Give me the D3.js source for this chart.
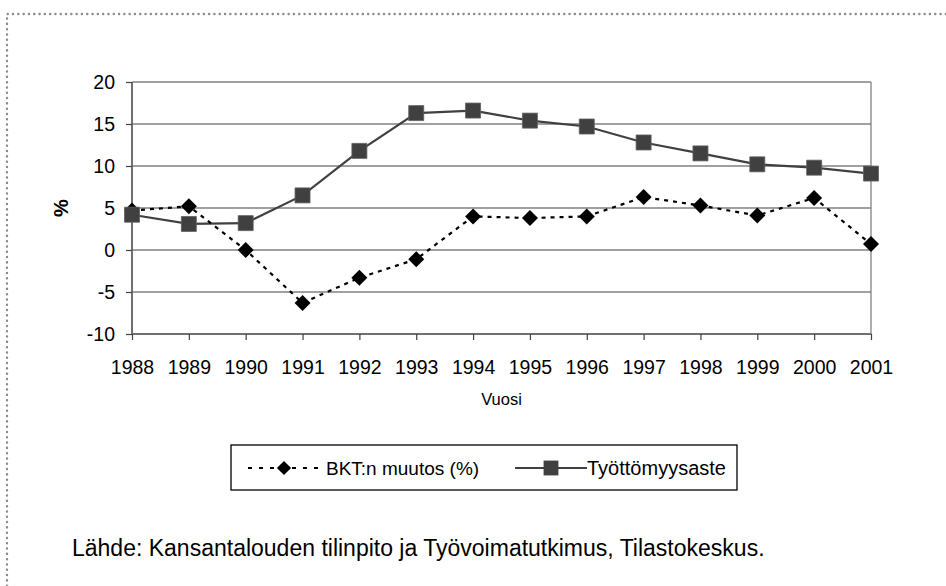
<!DOCTYPE html>
<html>
<head>
<meta charset="utf-8">
<script src="https://cdn.jsdelivr.net/npm/d3@7"></script>
<style>
  body { margin: 0; background: #fff; }
  svg { display: block; font-family: "Liberation Sans", Arial, sans-serif; }
</style>
</head>
<body>
<div id="chart"></div>
<script>
// Finnish GDP change and unemployment rate, 1988-2001
const years = [1988, 1989, 1990, 1991, 1992, 1993, 1994, 1995, 1996, 1997, 1998, 1999, 2000, 2001];
const bktValues = [4.7, 5.2, 0.0, -6.3, -3.3, -1.1, 4.0, 3.8, 4.0, 6.3, 5.3, 4.1, 6.2, 0.7];
const unemploymentValues = [4.2, 3.1, 3.2, 6.5, 11.8, 16.3, 16.6, 15.4, 14.7, 12.8, 11.5, 10.2, 9.8, 9.1];
const yTicks = [-10, -5, 0, 5, 10, 15, 20];
const seriesNames = ["BKT:n muutos (%)", "Työttömyysaste"];
const sourceText = "Lähde: Kansantalouden tilinpito ja Työvoimatutkimus, Tilastokeskus.";

const W = 946, H = 586;
const margin = { top: 82, right: 75, bottom: 252, left: 132 };
const width = W - margin.left - margin.right;
const height = H - margin.top - margin.bottom;

const svg = d3.select("#chart").append("svg")
    .attr("width", W)
    .attr("height", H);

// dotted frame round the whole thing
svg.append("path")
    .attr("d", `M7,${H + 5} L7,14 L${W + 5},14`)
    .attr("fill", "none")
    .attr("stroke", "#8a8a8a")
    .attr("stroke-width", 2.4)
    .attr("stroke-linecap", "round")
    .attr("stroke-dasharray", "0.1,5.2");

const g = svg.append("g")
    .attr("transform", `translate(${margin.left},${margin.top})`);

const x = d3.scalePoint()
    .domain(years)
    .range([0, width]);

const y = d3.scaleLinear()
    .domain([-10, 20])
    .range([height, 0]);

// gridlines
g.selectAll(".grid")
    .data(yTicks.filter(t => t !== -10))
    .join("line")
    .attr("class", "grid")
    .attr("x1", 0)
    .attr("x2", width)
    .attr("y1", d => y(d))
    .attr("y2", d => y(d))
    .attr("stroke", "#808080")
    .attr("stroke-width", 1.3);

// right border
g.append("line")
    .attr("x1", width).attr("x2", width)
    .attr("y1", 0).attr("y2", height)
    .attr("stroke", "#808080")
    .attr("stroke-width", 1.3);

// axes
const yAxis = g.append("g")
    .call(d3.axisLeft(y).tickValues(yTicks).tickSize(6).tickPadding(11).tickFormat(d => String(d)));
const xAxis = g.append("g")
    .attr("transform", `translate(0,${height})`)
    .call(d3.axisBottom(x).tickSize(6).tickPadding(20));

[yAxis, xAxis].forEach(ax => {
    ax.select(".domain").attr("stroke", "#707070").attr("stroke-width", 2);
    ax.selectAll(".tick line").attr("stroke", "#404040").attr("stroke-width", 1.2);
    ax.selectAll("text")
        .attr("fill", "#000")
        .style("font-size", "19.5px")
        .style("font-family", "Liberation Sans, Arial, sans-serif");
});
yAxis.select(".domain").attr("d", `M0,0V${height}`);
xAxis.select(".domain").attr("d", `M0,0H${width}`);

// axis titles
svg.append("text")
    .attr("transform", `translate(68,${margin.top + y(5)}) rotate(-90)`)
    .attr("text-anchor", "middle")
    .style("font-size", "20px")
    .style("font-weight", "bold")
    .text("%");

svg.append("text")
    .attr("x", margin.left + width / 2)
    .attr("y", 405)
    .attr("text-anchor", "middle")
    .style("font-size", "16.5px")
    .text("Vuosi");

// series
const seriesLine = d3.line().x((d, i) => x(years[i])).y(d => y(d));

g.append("path")
    .datum(unemploymentValues)
    .attr("fill", "none")
    .attr("stroke", "#404040")
    .attr("stroke-width", 2.2)
    .attr("d", seriesLine);

g.append("path")
    .datum(bktValues)
    .attr("fill", "none")
    .attr("stroke", "#000")
    .attr("stroke-width", 2.2)
    .attr("stroke-dasharray", "4,5")
    .attr("d", seriesLine);

const diamond = d3.symbol().type(d3.symbolSquare).size(128);
const square = d3.symbol().type(d3.symbolSquare).size(225);

g.selectAll(".bkt")
    .data(bktValues)
    .join("path")
    .attr("class", "bkt")
    .attr("d", diamond)
    .attr("transform", (d, i) => `translate(${x(years[i])},${y(d)}) rotate(45)`)
    .attr("fill", "#000");

g.selectAll(".unemp")
    .data(unemploymentValues)
    .join("path")
    .attr("class", "unemp")
    .attr("d", square)
    .attr("transform", (d, i) => `translate(${x(years[i])},${y(d)})`)
    .attr("fill", "#404040")
    .attr("stroke", "#606060")
    .attr("stroke-width", 0.8);

// legend
const legend = svg.append("g").attr("transform", "translate(231,445)");
legend.append("rect")
    .attr("width", 506)
    .attr("height", 45)
    .attr("fill", "#fff")
    .attr("stroke", "#000")
    .attr("stroke-width", 1.3);

const leg1 = legend.append("g").attr("transform", "translate(17,23)");
leg1.append("line")
    .attr("x1", 0).attr("x2", 76)
    .attr("stroke", "#000").attr("stroke-width", 2.2)
    .attr("stroke-dasharray", "4,7");
leg1.append("path")
    .attr("d", d3.symbol().type(d3.symbolSquare).size(100))
    .attr("transform", "translate(36,0) rotate(45)")
    .attr("fill", "#000");
leg1.append("text")
    .attr("x", 78).attr("y", 7)
    .style("font-size", "19px")
    .text(seriesNames[0]);

const leg2 = legend.append("g").attr("transform", "translate(284,23)");
leg2.append("line")
    .attr("x1", 0).attr("x2", 72)
    .attr("stroke", "#404040").attr("stroke-width", 2.2);
leg2.append("path")
    .attr("d", d3.symbol().type(d3.symbolSquare).size(220))
    .attr("transform", "translate(36,0)")
    .attr("fill", "#404040");
leg2.append("text")
    .attr("x", 72).attr("y", 7)
    .style("font-size", "20px")
    .text(seriesNames[1]);

// source note
svg.append("text")
    .attr("x", 72)
    .attr("y", 556)
    .style("font-size", "23px")
    .text(sourceText);
</script>
</body>
</html>
